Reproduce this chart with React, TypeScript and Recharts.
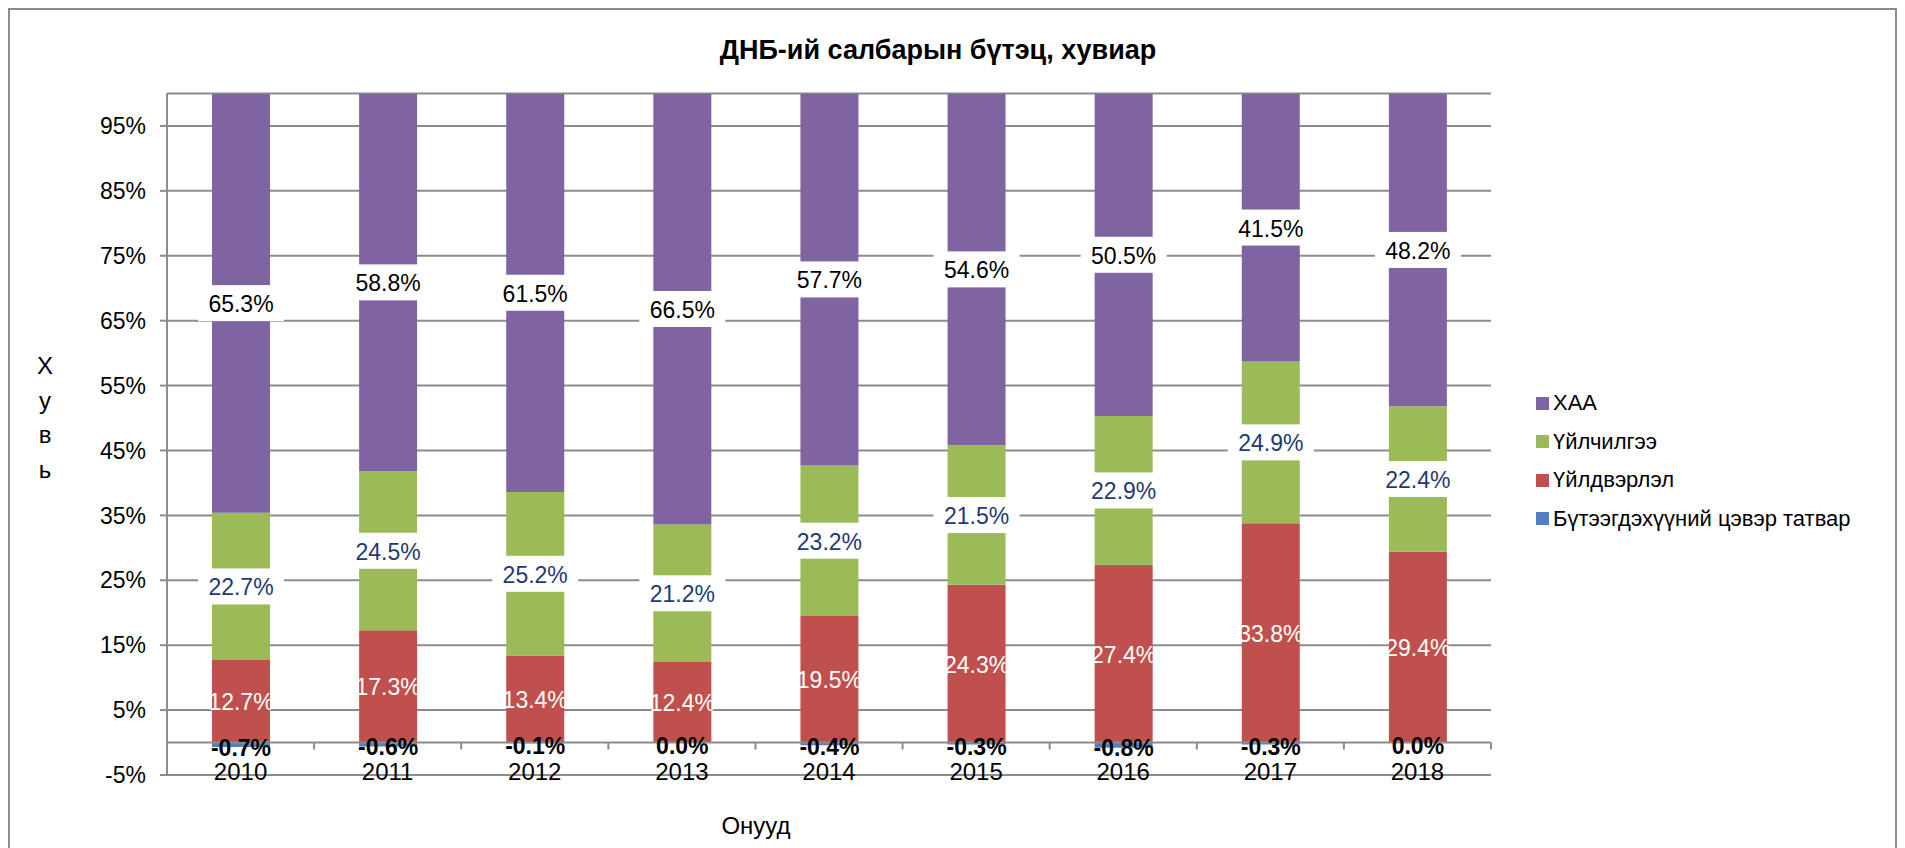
import React from 'react';
import { BarChart, Bar, XAxis, YAxis, CartesianGrid, ReferenceLine, LabelList, Legend } from 'recharts';

// Data (percent of GDP)
const years = ['2010', '2011', '2012', '2013', '2014', '2015', '2016', '2017', '2018'];
const taxValues = [-0.7, -0.6, -0.1, 0.0, -0.4, -0.3, -0.8, -0.3, 0.0];
const industryValues = [12.7, 17.3, 13.4, 12.4, 19.5, 24.3, 27.4, 33.8, 29.4];
const serviceValues = [22.7, 24.5, 25.2, 21.2, 23.2, 21.5, 22.9, 24.9, 22.4];
const agriValues = [65.3, 58.8, 61.5, 66.5, 57.7, 54.6, 50.5, 41.5, 48.2];
const yTicks = [-5, 5, 15, 25, 35, 45, 55, 65, 75, 85, 95];
const legendOrder = ['ХАА', 'Үйлчилгээ', 'Үйлдвэрлэл', 'Бүтээгдэхүүний цэвэр татвар'];

const data = years.map((year, i) => ({
  year,
  tax: taxValues[i],
  industry: industryValues[i],
  service: serviceValues[i],
  agri: agriValues[i],
}));

const FONT = '"Liberation Sans", Arial, sans-serif';
const GRAY = '#8c8c8c';
const CHART_W = 1885;
const CHART_H = 846;
const MARGIN = { top: 83.5, right: 404, bottom: 21, left: 97 };
const Y_MIN = -5;
const Y_MAX = 100;
const PLOT_W = CHART_W - MARGIN.left - 60 - MARGIN.right;
const PLOT_H = CHART_H - MARGIN.top - MARGIN.bottom - 60;
const BAND = PLOT_W / years.length;

const fmt = (v: any) => `${Number(v).toFixed(1)}%`;

const center = (p: any) => {
  const x = Number(p.x ?? p.viewBox?.x);
  const y = Number(p.y ?? p.viewBox?.y);
  const w = Number(p.width ?? p.viewBox?.width);
  const h = Number(p.height ?? p.viewBox?.height);
  return { cx: x + w / 2, cy: y + h / 2 };
};

// label with white box behind it
const boxLabel = (color: string) => (props: any) => {
  const { cx, cy } = center(props);
  return (
    <g>
      <rect x={cx - 43} y={cy - 18} width={86} height={36} fill="#fff" />
      <text x={cx} y={cy + 1} textAnchor="middle" dominantBaseline="central" fill={color} fontSize={23} fontFamily={FONT}>
        {fmt(props.value)}
      </text>
    </g>
  );
};

const plainLabel = (color: string, bold: boolean, size: number, dy: number) => (props: any) => {
  const { cx, cy } = center(props);
  return (
    <text x={cx} y={cy + dy} textAnchor="middle" dominantBaseline="central" fill={color} fontSize={size}
      fontWeight={bold ? 700 : 400} fontFamily={FONT}>
      {fmt(props.value)}
    </text>
  );
};

const YearTick = (props: any) => {
  const { x, y, payload } = props;
  const zeroY = y - (PLOT_H * (0 - Y_MIN)) / (Y_MAX - Y_MIN);
  return (
    <g>
      <line x1={x + BAND / 2} x2={x + BAND / 2} y1={zeroY} y2={zeroY + 7} stroke={GRAY} strokeWidth={2} />
      <text x={x} y={y - 4} textAnchor="middle" dominantBaseline="central" fontSize={24} fontFamily={FONT} fill="#000">
        {payload.value}
      </text>
    </g>
  );
};

const LegendContent = (props: any) => {
  const items = [...(props.payload || [])].sort(
    (a: any, b: any) => legendOrder.indexOf(a.value) - legendOrder.indexOf(b.value),
  );
  return (
    <div style={{ fontFamily: FONT }}>
      {items.map((it: any) => (
        <div key={it.value} style={{ display: 'flex', alignItems: 'center', height: 38.5 }}>
          <span style={{ width: 13, height: 13, background: it.color, marginRight: 4, flexShrink: 0 }} />
          <span style={{ fontSize: 22, color: '#000', whiteSpace: 'nowrap' }}>{it.value}</span>
        </div>
      ))}
    </div>
  );
};

export default function App() {
  return (
    <div style={{ position: 'relative', width: 1889, height: 860, border: `2px solid ${GRAY}`, boxSizing: 'border-box', background: '#fff', fontFamily: FONT }}>
      <div style={{ position: 'absolute', left: 928, top: 40, transform: 'translate(-50%, -50%)', fontSize: 27, fontWeight: 700, whiteSpace: 'nowrap', color: '#000' }}>
        ДНБ-ий салбарын бүтэц, хувиар
      </div>
      <div style={{ position: 'absolute', left: 24, top: 339, width: 22, textAlign: 'center', fontSize: 24, lineHeight: '34.5px', color: '#000' }}>
        {['Х', 'у', 'в', 'ь'].map(c => <div key={c}>{c}</div>)}
      </div>
      <div style={{ position: 'absolute', left: 746, top: 816, transform: 'translate(-50%, -50%)', fontSize: 24, whiteSpace: 'nowrap', color: '#000' }}>
        Онууд
      </div>
      <div style={{ position: 'absolute', left: 0, top: 0 }}>
        <BarChart width={CHART_W} height={CHART_H} data={data} margin={MARGIN} stackOffset="sign">
          <CartesianGrid horizontal vertical={false} stroke={GRAY} strokeWidth={2} />
          <XAxis dataKey="year" axisLine={false} tickLine={false} tickSize={0} tickMargin={0} height={60} interval={0} tick={<YearTick />} />
          <YAxis
            type="number"
            domain={[Y_MIN, Y_MAX]}
            ticks={yTicks}
            allowDataOverflow
            width={60}
            tickFormatter={(v: number) => `${v}%`}
            axisLine={{ stroke: GRAY, strokeWidth: 2 }}
            tickLine={{ stroke: GRAY, strokeWidth: 2 }}
            tickSize={7}
            tickMargin={14}
            tick={{ fontSize: 23, fill: '#000', fontFamily: FONT }}
          />
          <Legend layout="vertical" align="center" verticalAlign="middle" content={<LegendContent />}
            wrapperStyle={{ left: 1526, top: 374, width: 359 }} />
          <Bar dataKey="tax" name="Бүтээгдэхүүний цэвэр татвар" stackId="a" fill="#4F81BD" barSize={58} minPointSize={0.01} isAnimationActive={false}>
            <LabelList dataKey="tax" content={plainLabel('#000', true, 23, 3)} />
          </Bar>
          <Bar dataKey="industry" name="Үйлдвэрлэл" stackId="a" fill="#C0504D" barSize={58} isAnimationActive={false}>
            <LabelList dataKey="industry" content={plainLabel('#fff', false, 23, 1)} />
          </Bar>
          <Bar dataKey="service" name="Үйлчилгээ" stackId="a" fill="#9BBB59" barSize={58} isAnimationActive={false}>
            <LabelList dataKey="service" content={boxLabel('#1F3A70')} />
          </Bar>
          <Bar dataKey="agri" name="ХАА" stackId="a" fill="#8064A2" barSize={58} isAnimationActive={false}>
            <LabelList dataKey="agri" content={boxLabel('#000')} />
          </Bar>
          <ReferenceLine y={0} stroke={GRAY} strokeWidth={2} />
        </BarChart>
      </div>
    </div>
  );
}
